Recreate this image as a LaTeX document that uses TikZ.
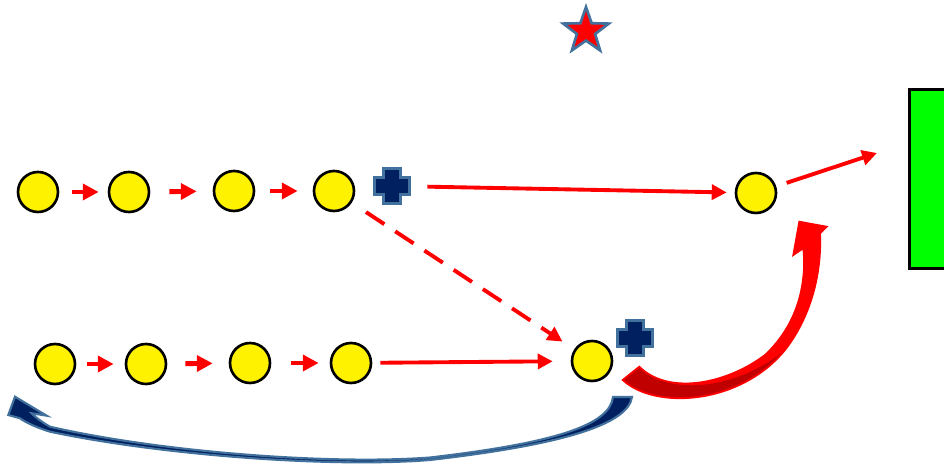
\documentclass[tikz,border=0pt]{standalone}
\usetikzlibrary{arrows.meta,shapes.geometric}
\definecolor{navy}{HTML}{002060}
\definecolor{steel}{HTML}{41719C}
\definecolor{darkred}{HTML}{C00000}
\definecolor{goalgreen}{HTML}{00FF00}
% outline of the thick red bend arrow
\newcommand{\bendshape}{(622.7,380) .. controls (655,410) and (740,405) .. (785,350)
    .. controls (810,318) and (822,275) .. (820,233.3) -- (826.7,226.7) -- (799.3,221.7)
    -- (793.3,255) -- (803.3,248.3) .. controls (807,285) and (797,325) .. (765,355)
    .. controls (725,385) and (668,395) .. (639.3,366.7) -- cycle}
\begin{document}
\begin{tikzpicture}[
    x=0.02cm, y=-0.02cm,
    ball/.style={circle, draw=black, fill=yellow, line width=1.5pt, minimum size=0.8cm, inner sep=0pt},
    plusmark/.style={minimum size=0.8cm, inner sep=0pt, path picture={
        \filldraw[fill=navy, draw=steel, line width=1.5pt, shift={(path picture bounding box.center)}]
          (-0.354cm,-0.17cm) -- (-0.17cm,-0.17cm) -- (-0.17cm,-0.354cm) -- (0.17cm,-0.354cm)
          -- (0.17cm,-0.17cm) -- (0.354cm,-0.17cm) -- (0.354cm,0.17cm) -- (0.17cm,0.17cm)
          -- (0.17cm,0.354cm) -- (-0.17cm,0.354cm) -- (-0.17cm,0.17cm) -- (-0.354cm,0.17cm) -- cycle;}},
    hop/.style={red, line width=2.8pt, -{Triangle[length=9pt,width=9pt]}},
    link/.style={red, line width=2.2pt, -{Triangle[length=8.5pt,width=8.5pt]}}
]
  \useasboundingbox (0,0) rectangle (944,465);

  % star and goal
  \node[star, star points=5, star point ratio=2.5, fill=red, draw=steel, line width=1.5pt,
        minimum size=0.96cm, inner sep=0pt] (star) at (586,31) {};
  \node[draw=black, fill=goalgreen, line width=1.5pt, minimum width=0.79cm, minimum height=3.59cm,
        inner sep=0pt] (goal) at (929,179) {};

  % first row
  \node[ball] (a1) at (38,192) {};
  \node[ball] (a2) at (129,192) {};
  \node[ball] (a3) at (234,191) {};
  \node[ball] (a4) at (334,191) {};
  \node[plusmark] (p1) at (392,186) {};
  \node[ball] (b1) at (756,193) {};
  \coordinate (aim) at (877,153);

  \draw[hop, shorten <=0.26cm, shorten >=0.18cm] (a1) -- (a2);
  \draw[hop, shorten <=0.38cm, shorten >=0.32cm] (a2) -- (a3);
  \draw[hop, shorten <=0.30cm, shorten >=0.30cm] (a3) -- (a4);
  \draw[link, shorten <=0.30cm, shorten >=0.16cm] (p1) -- (b1);
  \draw[link, shorten <=0.22cm] (b1) -- (aim);

  % second row
  \node[ball] (c1) at (55,364) {};
  \node[ball] (c2) at (146,364) {};
  \node[ball] (c3) at (250,363) {};
  \node[ball] (c4) at (351,363) {};
  \node[ball] (d) at (592,361) {};
  \node[plusmark] (p2) at (635,338) {};

  \draw[hop, shorten <=0.22cm, shorten >=0.22cm] (c1) -- (c2);
  \draw[hop, shorten <=0.36cm, shorten >=0.32cm] (c2) -- (c3);
  \draw[hop, shorten <=0.40cm, shorten >=0.22cm] (c3) -- (c4);
  \draw[link, shorten <=0.16cm, shorten >=0.36cm] (c4) -- (d);
  \draw[link, dash pattern=on 0.44cm off 0.26cm, shorten <=0.34cm, shorten >=0.28cm] (a4) -- (d);

  % curved arrows
  \fill[red] \bendshape;
  \fill[darkred] (622.7,380) .. controls (655,410) and (740,405) .. (785,350)
    .. controls (740,388) and (670,398) .. (639.3,366.7) -- cycle;
  \draw[red, line width=1pt, line join=miter] \bendshape;

  \filldraw[fill=navy, draw=steel, line width=1.2pt] (613,397) -- (632,397)
    .. controls (628,425) and (560,445) .. (430,460)
    .. controls (330,468) and (160,455) .. (50,431.7)
    .. controls (35,427) and (25,422) .. (20,418.3)
    -- (8.3,415) -- (15,396.7) -- (46.7,415.7) -- (31.7,413.3)
    .. controls (36,418) and (45,424) .. (50,426.7)
    .. controls (160,452) and (330,465) .. (430,457.5)
    .. controls (555,443) and (610,425) .. (613,397) -- cycle;
\end{tikzpicture}
\end{document}
